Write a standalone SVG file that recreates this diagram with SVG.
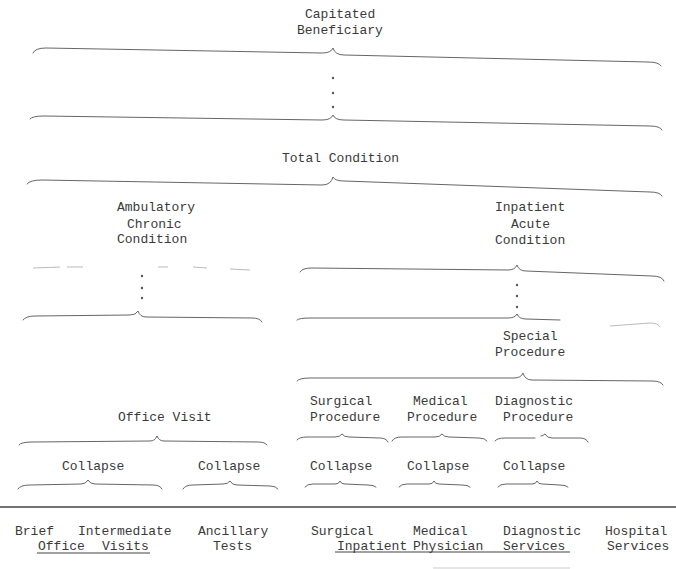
<svg xmlns="http://www.w3.org/2000/svg" width="676" height="569" viewBox="0 0 676 569">
<style>
text{font-family:"Liberation Mono","Courier New",monospace;font-size:13px;fill:#3a3a3a}
.br{fill:none;stroke:#666;stroke-width:1;stroke-linecap:round}
.faint{fill:none;stroke:#bbb;stroke-width:1}
.ul{stroke:#444;stroke-width:1.2}
.dot{fill:#555}
</style>
<rect width="676" height="569" fill="#fff"/>
<g id="connectors">
<path class="br" d="M33,53 Q35,48 46,48 L322,53 Q331,53 333,48 Q335,55 344,55 L648,62 Q659,62 661,66"/>
<circle class="dot" cx="333" cy="78" r="1.2"/><circle class="dot" cx="333" cy="93" r="1.2"/><circle class="dot" cx="333" cy="107" r="1.2"/>
<path class="br" d="M30,119 Q32,116 44,116 L322,120 Q331,120 333,115 Q335,120 344,120 L650,126 Q660,126 662,130"/>
<path class="br" d="M27,184 Q30,180 42,180 L322,185 Q331,185 333,177 Q335,181 344,181 L650,192 Q660,192 662,196"/>
<path class="faint" d="M33,268 L60,267 M67,267 L83,267 M158,267 L168,267 M193,267 L207,268 M230,269 L250,270"/>
<circle class="dot" cx="142" cy="276" r="1.2"/><circle class="dot" cx="142" cy="288" r="1.2"/><circle class="dot" cx="142" cy="298" r="1.2"/>
<path class="br" d="M23,320 Q26,316 35,316 L130,315 Q136,315 138,311 Q140,317 146,317 L252,318 Q260,318 262,322"/>
<path class="br" d="M300,272 Q302,268 312,268 L508,270 Q515,270 517,265 Q519,271 526,271 L652,276 Q662,276 664,281"/>
<circle class="dot" cx="517" cy="285" r="1.2"/><circle class="dot" cx="517" cy="296" r="1.2"/><circle class="dot" cx="517" cy="307" r="1.2"/>
<path class="br" d="M297,320 Q299,318 310,318 L508,318 Q515,318 517,314 Q519,319 526,319 L560,320"/>
<path class="faint" d="M610,326 L650,323 Q658,323 660,327"/>
<path class="br" d="M297,381 Q299,378 310,378 L514,378 Q521,378 523,373 Q525,380 532,380 L652,381 Q661,381 663,385"/>
<path class="br" d="M297,440 Q299,437 307,437 L335,437 Q340,437 342,434 Q344,437 349,437 L380,438 Q386,438 388,442"/>
<path class="br" d="M392,441 Q394,437 402,437 L435,437 Q440,437 442,434 Q444,437 449,437 L479,438 Q485,438 487,441"/>
<path class="br" d="M495,441 Q497,438 505,438 L535,438 M541,436 Q543,436 545,434 Q547,438 552,438 L580,438 Q586,438 588,442"/>
<path class="br" d="M19,445 Q21,442 32,442 L150,441 Q155,441 157,436 Q159,441 164,441 L258,442 Q265,442 267,445"/>
<path class="br" d="M18,489 Q20,485 30,485 L81,484 Q86,484 88,480 Q90,484 95,484 L153,485 Q160,485 162,489"/>
<path class="br" d="M183,489 Q185,485 193,485 L223,484 Q228,484 230,481 Q232,485 237,485 L270,486 Q276,486 278,489"/>
<path class="br" d="M305,487 Q307,484 313,484 L335,484 Q339,484 340,481 Q341,484 345,484 L368,485 Q374,485 376,487"/>
<path class="br" d="M399,487 Q401,484 407,484 L429,484 Q433,484 434,481 Q435,484 439,484 L462,485 Q468,485 470,487"/>
<path class="br" d="M498,487 Q500,484 506,484 L532,484 Q536,484 537,481 Q538,484 542,484 L560,485 Q566,485 568,487"/>
<line x1="0" y1="507" x2="676" y2="507" stroke="#444" stroke-width="1.3"/>
<line class="ul" x1="37" y1="553" x2="150" y2="553"/>
<line class="ul" x1="335" y1="552" x2="570" y2="552"/>
<line x1="433" y1="568" x2="570" y2="568" stroke="#ccc" stroke-width="1"/>
</g>
<g id="capitated"><text x="305" y="18">Capitated</text><text x="297" y="33.5">Beneficiary</text></g>
<g id="total"><text x="282" y="162">Total Condition</text></g>
<g id="ambulatory"><text x="117" y="211">Ambulatory</text><text x="127" y="227.5">Chronic</text><text x="117" y="243">Condition</text></g>
<g id="inpatient"><text x="495" y="211">Inpatient</text><text x="511" y="227.5">Acute</text><text x="495" y="244">Condition</text></g>
<g id="special"><text x="503" y="340">Special</text><text x="495" y="356">Procedure</text></g>
<g id="surgical"><text x="310" y="405">Surgical</text><text x="310" y="421">Procedure</text></g>
<g id="medical"><text x="413" y="405">Medical</text><text x="407" y="421">Procedure</text></g>
<g id="diagnostic"><text x="495" y="405">Diagnostic</text><text x="503" y="421">Procedure</text></g>
<g id="office"><text x="118" y="421">Office Visit</text></g>
<g id="collapse1"><text x="62" y="470">Collapse</text></g>
<g id="collapse2"><text x="198" y="470">Collapse</text></g>
<g id="collapse3"><text x="310" y="470">Collapse</text></g>
<g id="collapse4"><text x="407" y="470">Collapse</text></g>
<g id="collapse5"><text x="503" y="470">Collapse</text></g>
<g id="office-visits"><text x="15" y="535">Brief</text><text x="78" y="535">Intermediate</text><text y="550"><tspan x="38">Office</tspan><tspan x="102">Visits</tspan></text></g>
<g id="ancillary"><text x="198" y="535">Ancillary</text><text x="213" y="550">Tests</text></g>
<g id="surgical-inpatient"><text x="311" y="535">Surgical</text><text x="337" y="550">Inpatient</text></g>
<g id="medical-physician"><text x="413" y="535">Medical</text><text x="413" y="550">Physician</text></g>
<g id="diagnostic-services"><text x="503" y="535">Diagnostic</text><text x="503" y="550">Services</text></g>
<g id="hospital"><text x="605" y="535">Hospital</text><text x="607" y="550">Services</text></g>
</svg>
